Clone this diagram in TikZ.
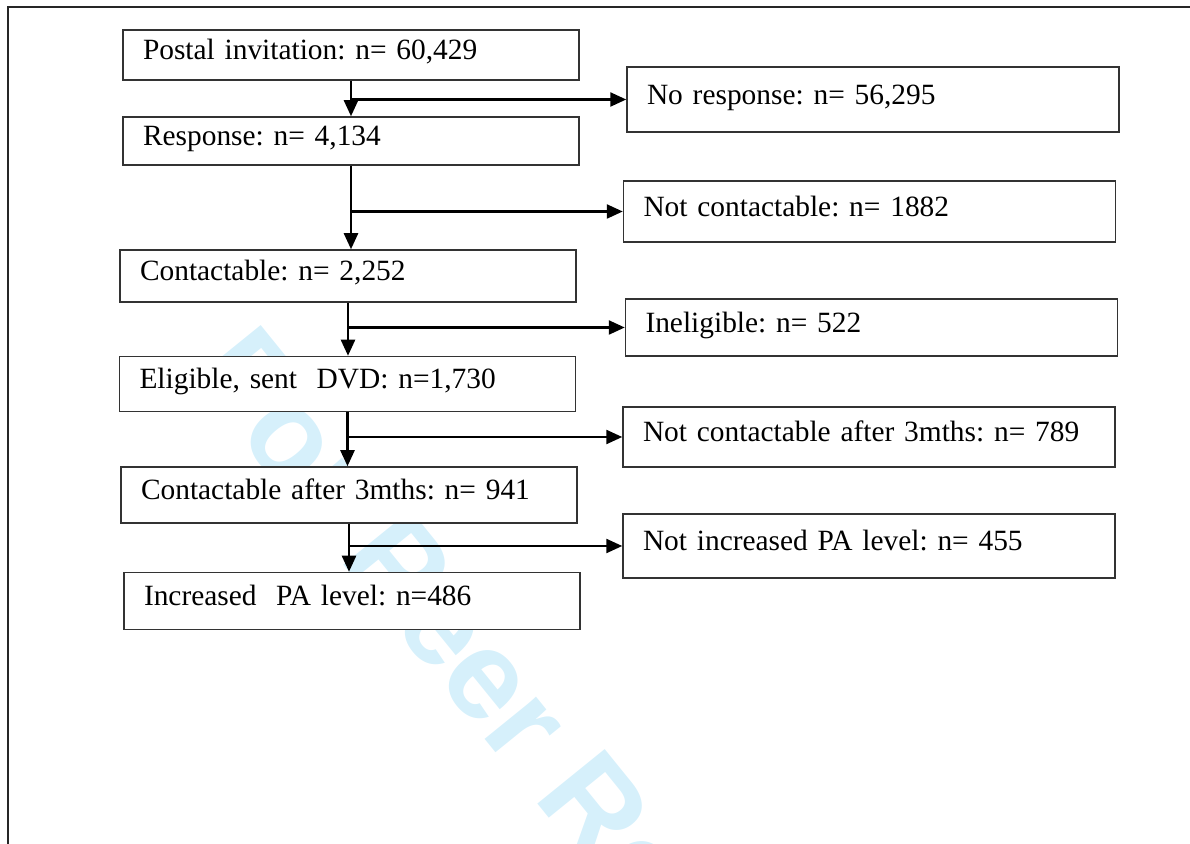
\documentclass[tikz,border=0pt]{standalone}
\usepackage{fontspec}
\setmainfont{Liberation Serif}
\newfontfamily\wmfont{Liberation Sans}
\usetikzlibrary{arrows.meta,positioning}
\definecolor{wmblue}{RGB}{214,240,251}
\frenchspacing

\begin{document}
\begin{tikzpicture}[x=0.5pt,y=-0.5pt,font=\fontsize{14.7}{18}\selectfont,
  stage/.style={draw=black!80,fill=white,line width=0.75pt,text width=208pt,align=left,inner xsep=10pt,inner ysep=0pt,text height=10pt,text depth=5pt},
  dropout/.style={stage,text width=226pt},
  flow/.style={-{Triangle[length=8pt,width=7pt]},line width=1.2pt},
  watermark/.style={text=wmblue,font=\wmfont\bfseries\fontsize{63}{63}\selectfont}]
  \useasboundingbox (0,0) rectangle (1190,844);
  \node[watermark,rotate=-51] (review) at (532,726) {For Peer Review};
  \draw[line width=1pt,black!85] (8,844) -- (8,7) -- (1190,7);

  \node[stage,minimum height=25pt] (postal) at (351,55) {Postal invitation: n= 60,429};
    \node[dropout,minimum height=32.5pt] (no_response) at (873,99.5) {No response: n= 56,295};
  \node[stage,minimum height=24pt] (response) at (351,141) {Response: n= 4,134};
    \node[dropout,minimum height=30.5pt] (not_contactable) at (869.5,211.5) {Not contactable: n= 1882};
  \node[stage,minimum height=26pt] (contactable) at (348,276) {Contactable: n= 2,252};
    \node[dropout,minimum height=28.5pt] (ineligible) at (871.5,327.5) {Ineligible: n= 522};
  \node[stage,minimum height=27.5pt] (eligible) at (347.5,384) {Eligible, sent~~DVD: n=1,730};
    \node[dropout,minimum height=30pt] (lost_3m) at (869,437) {Not contactable after 3mths: n= 789};
  \node[stage,minimum height=28pt] (contactable_3m) at (349,495) {Contactable after 3mths: n= 941};
    \node[dropout,minimum height=32pt] (not_increased) at (869,546) {Not increased PA level: n= 455};
  \node[stage,minimum height=28.5pt] (increased) at (352,601) {Increased~~PA level: n=486};

  \draw[flow] (postal.south) -- (postal.south |- response.north);
  \draw[flow] (postal.south |- no_response.west) -- (no_response.west);
  \draw[flow] (response.south) -- (response.south |- contactable.north);
  \draw[flow] (response.south |- not_contactable.west) -- (not_contactable.west);
  \draw[flow] (contactable.south) -- (contactable.south |- eligible.north);
  \draw[flow] (contactable.south |- ineligible.west) -- (ineligible.west);
  \draw[flow] (eligible.south) -- (eligible.south |- contactable_3m.north);
  \draw[flow] (eligible.south |- lost_3m.west) -- (lost_3m.west);
  \draw[flow] (contactable_3m.south) -- (contactable_3m.south |- increased.north);
  \draw[flow] (contactable_3m.south |- not_increased.west) -- (not_increased.west);
\end{tikzpicture}
\end{document}
